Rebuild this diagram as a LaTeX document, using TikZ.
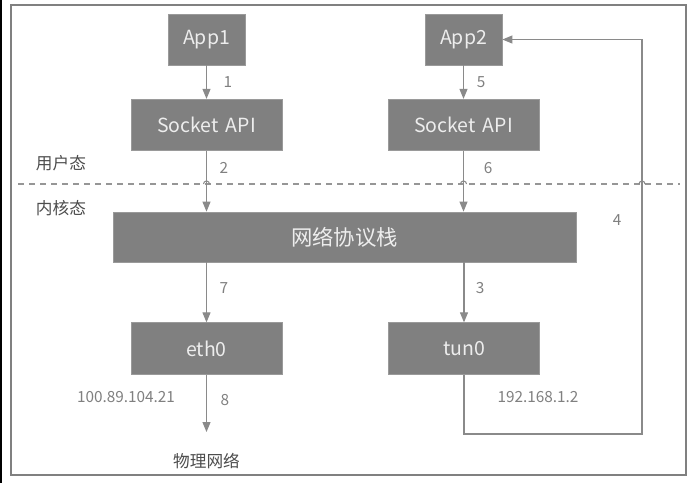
\documentclass[tikz,border=0pt]{standalone}
\usepackage{fontspec}
\setmainfont{Noto Sans CJK SC}
\usetikzlibrary{arrows.meta}
\definecolor{boxgray}{HTML}{808080}
\definecolor{boxedge}{HTML}{9A9A9A}
\definecolor{boxtext}{HTML}{EDEDED}
\definecolor{linegray}{HTML}{8A8A8A}
\definecolor{labelgray}{HTML}{808080}
\definecolor{darkgray}{HTML}{4D4D4D}
\definecolor{framegray}{HTML}{808080}
\begin{document}
\begin{tikzpicture}[x=0.75pt,y=-0.75pt,
  box/.style={draw=boxedge, line width=0.6pt, fill=boxgray, text=boxtext, inner sep=0pt,
    font=\fontsize{14.6}{17}\selectfont},
  smallbox/.style={box, minimum width=57.75pt, minimum height=38.25pt},
  widebox/.style={box, minimum width=113.25pt, minimum height=38.6pt},
  arr/.style={draw=linegray, line width=0.8pt, -{Triangle[length=7.5pt,width=6pt]}},
  num/.style={text=labelgray, font=\fontsize{11.5}{13}\selectfont, inner sep=0pt},
  zone/.style={text=darkgray, font=\fontsize{12.5}{14}\selectfont, inner sep=0pt},
  hop/.style={draw=linegray, line width=0.8pt}]
\useasboundingbox (0,0) rectangle (696,483);
\fill[white] (0,0) rectangle (696,483);
\fill[black] (0,0) rectangle (2,483);
\draw[framegray, line width=1.5pt] (11,5) rectangle (686,475);

% boxes
\node[smallbox] (app1) at (206.5,39.5) {App1};
\node[widebox] (sock1) at (206.5,125) {Socket\hspace{0.15em} API};
\node[smallbox] (app2) at (463.5,39.5) {App2};
\node[widebox] (sock2) at (463.5,125) {Socket\hspace{0.15em} API};
\node[box, minimum width=347.25pt, minimum height=37.5pt,
  font=\fontsize{16}{18}\selectfont] (stack) at (344.5,237) {网络协议栈};
\node[widebox] (eth) at (206.5,348.5) {eth0};
\node[widebox] (tun) at (464,348.5) {tun0};

% user/kernel boundary
\draw[linegray!90, line width=0.8pt, dash pattern=on 4.5pt off 3.75pt] (18,184) -- (680,184);
\foreach \hx in {206.5,463.5,642}
  \draw[hop] (\hx-3,184) arc[start angle=180, end angle=360, radius=3];
\node[zone] (user) at (61,163) {用户态};
\node[zone] (kernel) at (61,208) {内核态};

% connectors
\coordinate (phys) at (206.5,432);
\coordinate (loopc) at (642,434);
\draw[arr] (app1) -- (sock1);
\draw[arr] (app2) -- (sock2);
\draw[arr] (sock1.south) -- (sock1.south |- stack.north);
\draw[arr] (sock2.south) -- (sock2.south |- stack.north);
\draw[arr] (eth.north |- stack.south) -- (eth.north);
\draw[arr] (tun.north |- stack.south) -- (tun.north);
\draw[arr] (eth.south) -- (phys);
\draw[arr] (tun.south) |- (loopc) |- (app2.east);

% labels
\node[num] (l1) at (228,82) {1};
\node[num] (l2) at (224,168) {2};
\node[num] (l5) at (481,82) {5};
\node[num] (l6) at (488,168) {6};
\node[num] (l4) at (617,220) {4};
\node[num] (l7) at (224,288) {7};
\node[num] (l3) at (480,288) {3};
\node[num] (l8) at (225,400) {8};
\node[num] (ipeth) at (126,397) {100.89.104.21};
\node[num] (iptun) at (538,397) {192.168.1.2};
\node[zone] (physlabel) at (206.5,461) {物理网络};
\end{tikzpicture}
\end{document}
